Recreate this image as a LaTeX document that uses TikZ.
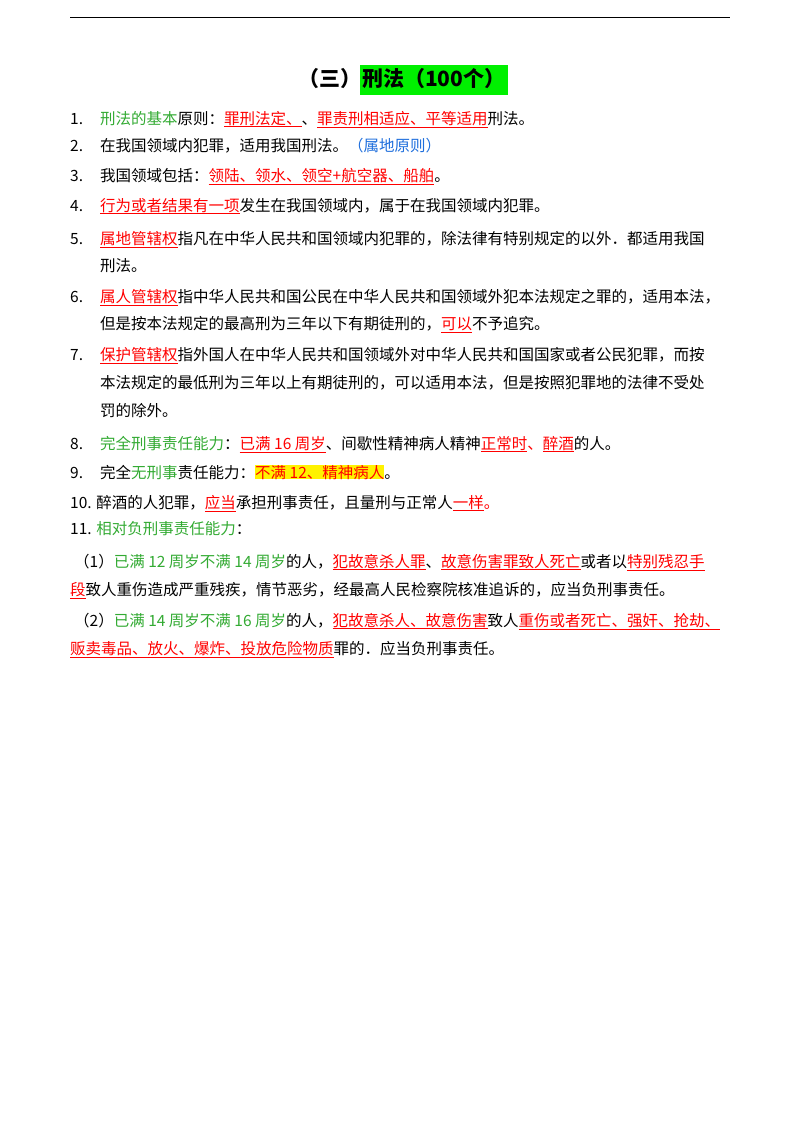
\documentclass[tikz,border=0pt]{standalone}
\usepackage{fontspec}
\setmainfont{Noto Sans CJK SC}
\definecolor{gr}{RGB}{50,170,50}
\definecolor{rd}{RGB}{255,0,0}
\definecolor{bl}{RGB}{30,110,220}
\definecolor{hg}{RGB}{0,240,0}
\newcommand\R[1]{\textcolor{rd}{\underline{#1}}}
\newcommand\G[1]{\textcolor{gr}{#1}}
\newcommand\B[1]{\textcolor{bl}{#1}}
\tikzset{ln/.style={anchor=base west,inner sep=0pt,font=\fontsize{15.5}{18}\selectfont}}
\begin{document}
\begin{tikzpicture}[x=1pt,y=-1pt]
\useasboundingbox (0,0) rectangle (800,1132);
\draw[line width=0.8pt] (70,17) -- (730,17);
\node[anchor=base east,inner sep=0pt,font=\fontsize{21}{24}\selectfont\bfseries] (t1) at (362,86) {（三）};
\node[anchor=base west,fill=hg,inner xsep=2pt,inner ysep=0pt,minimum height=30pt,text depth=6pt,font=\fontsize{21}{24}\selectfont\bfseries] (t2) at (360,86) {刑法（100个）};
\node[ln] (n1) at (70,124) {1.};
\node[ln] (l1) at (100,124) {\G{刑法的基本}原则：\R{罪刑法定、}、\R{罪责刑相适应、平等适用}刑法。};
\node[ln] (n2) at (70,151) {2.};
\node[ln] (l2) at (100,151) {在我国领域内犯罪，适用我国刑法。\B{（属地原则）}};
\node[ln] (n3) at (70,181) {3.};
\node[ln] (l3) at (100,181) {我国领域包括：\R{领陆、领水、领空+航空器、船舶}。};
\node[ln] (n4) at (70,211) {4.};
\node[ln] (l4) at (100,211) {\R{行为或者结果有一项}发生在我国领域内，属于在我国领域内犯罪。};
\node[ln] (n5) at (70,244) {5.};
\node[ln] (l5) at (100,244) {\R{属地管辖权}指凡在中华人民共和国领域内犯罪的，除法律有特别规定的以外．都适用我国};
\node[ln] (l5b) at (100,271) {刑法。};
\node[ln] (n6) at (70,302) {6.};
\node[ln] (l6) at (100,302) {\R{属人管辖权}指中华人民共和国公民在中华人民共和国领域外犯本法规定之罪的，适用本法，};
\node[ln] (l6b) at (100,329) {但是按本法规定的最高刑为三年以下有期徒刑的，\R{可以}不予追究。};
\node[ln] (n7) at (70,360) {7.};
\node[ln] (l7) at (100,360) {\R{保护管辖权}指外国人在中华人民共和国领域外对中华人民共和国国家或者公民犯罪，而按};
\node[ln] (l7b) at (100,388) {本法规定的最低刑为三年以上有期徒刑的，可以适用本法，但是按照犯罪地的法律不受处};
\node[ln] (l7c) at (100,416) {罚的除外。};
\node[ln] (n8) at (70,449) {8.};
\node[ln] (l8) at (100,449) {\G{完全刑事责任能力}：\R{已满 16 周岁}、间歇性精神病人精神\R{正常时}\textcolor{rd}{、}\R{醉酒}的人。};
\node[ln] (n9) at (70,478) {9.};
\node[ln] (l9) at (100,478) {完全\G{无刑事}责任能力：{\setlength\fboxsep{0pt}\colorbox{yellow}{\textcolor{rd}{不满 12、精神病人}}}。};
\node[ln] (l10) at (70,508) {10. 醉酒的人犯罪，\R{应当}承担刑事责任，且量刑与正常人\R{一样}\textcolor{rd}{。}};
\node[ln] (l11) at (70,534) {11. \G{相对负刑事责任能力}：};
\node[ln] (p1) at (70,567) {\hspace{4pt}（1）\G{已满 12 周岁不满 14 周岁}的人，\R{犯故意杀人罪}、\R{故意伤害罪致人死亡}或者以\R{特别残忍手}};
\node[ln] (p1b) at (70,595) {\R{段}致人重伤造成严重残疾，情节恶劣，经最高人民检察院核准追诉的，应当负刑事责任。};
\node[ln] (p2) at (70,626) {\hspace{4pt}（2）\G{已满 14 周岁不满 16 周岁}的人，\R{犯故意杀人、故意伤害}致人\R{重伤或者死亡、强奸、抢劫、}};
\node[ln] (p2b) at (70,654) {\R{贩卖毒品、放火、爆炸、投放危险物质}罪的．应当负刑事责任。};
\end{tikzpicture}
\end{document}
